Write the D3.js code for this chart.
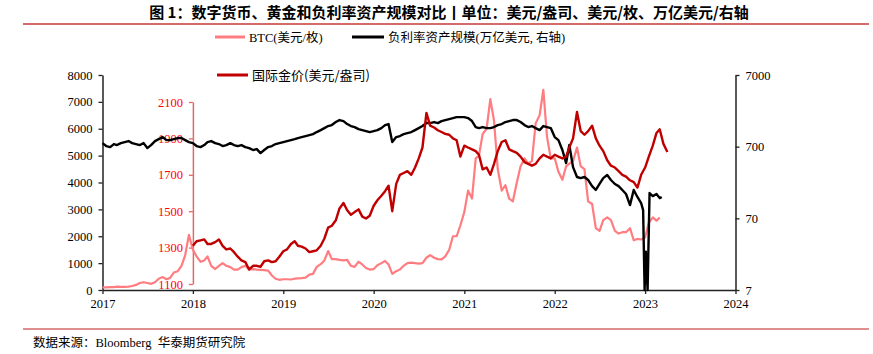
<!DOCTYPE html>
<html>
<head>
<meta charset="utf-8">
<script src="https://cdn.jsdelivr.net/npm/d3@7/dist/d3.min.js"></script>
<style>
  html, body { margin: 0; padding: 0; background: #fff; }
  svg { display: block; }
  text { white-space: pre; }
</style>
</head>
<body>
<svg id="chart" width="873" height="354"></svg>
<script>
// ---------------- DATA ----------------
const titleText = "图 1：数字货币、黄金和负利率资产规模对比丨单位：美元/盎司、美元/枚、万亿美元/右轴";
const sourceText = "数据来源：Bloomberg  华泰期货研究院";
const seriesNames = ["BTC(美元/枚)", "负利率资产规模(万亿美元, 右轴)", "国际金价(美元/盎司)"];

const yearTicks = [2017, 2018, 2019, 2020, 2021, 2022, 2023, 2024];
const leftTicks = [0, 1000, 2000, 3000, 4000, 5000, 6000, 7000, 8000];
const goldTicks = [1100, 1300, 1500, 1700, 1900, 2100];
const rightTicks = [7, 70, 700, 7000];

// BTC, semi-monthly (1st & 16th) from 2017-01
const btc2017 = [100,95,105,110,125,115,115,125,150,190,260,290,260,230,290,420,480,400,450,650,700,900,1300,2050];
const btc2018 = [1500,1250,1050,1100,1250,900,780,900,1000,900,850,760,760,850,900,760,780,760,750,740,720,540,420,380];
const btc2019 = [400,400,390,420,430,440,460,570,600,860,960,1100,1450,1150,1150,1120,1100,1120,900,860,1050,950,820,760];
const btc2020 = [780,920,1000,1080,950,600,700,760,900,1000,1020,1000,980,1000,1200,1300,1200,1150,1140,1250,1500,2000,2000,2400];
const btc2021 = [2900,3700,3400,4900,5000,5800,6000,7100,6300,4500,3700,3900,3400,3300,4000,4600,4900,4700,4800,6200,6500,7450,5700,4900];
const btc2022 = [4900,4400,4100,4600,4700,4800,5300,4600,4500,3300,3200,2300,2200,2600,2700,2600,2200,2100,2150,2150,2300,1850,1900,1880];
const btc2023 = [1950,2500,2700,2580,2700];

// Gold, semi-monthly from 2018-01
const gold2018 = [1310,1335,1340,1345,1320,1320,1330,1345,1310,1290,1295,1275,1250,1230,1220,1180,1200,1200,1195,1225,1230,1220,1225,1250];
const gold2019 = [1280,1290,1320,1335,1310,1305,1295,1275,1280,1285,1310,1350,1410,1420,1450,1515,1545,1505,1480,1495,1510,1470,1460,1475];
const gold2020 = [1530,1560,1585,1610,1640,1500,1650,1700,1710,1720,1700,1740,1790,1850,2040,1970,1960,1945,1935,1925,1920,1900,1890,1800];
const gold2021 = [1860,1850,1840,1830,1810,1730,1740,1700,1760,1830,1880,1890,1840,1830,1820,1800,1770,1760,1750,1760,1790,1810,1800,1790];
const gold2022 = [1810,1800,1790,1800,1850,1900,2045,1940,1920,1940,1970,1900,1860,1830,1780,1750,1740,1720,1700,1690,1670,1660,1630,1700];
const gold2023 = [1740,1800,1860,1930,1950,1870,1825];

// Negative-yield assets (right axis, log), semi-monthly from 2017-01
const neg2017 = [785,714,691,761,737,785,811,838,785,761,737,785,669,737,838,893,953,865,865,893,923,923,865,811];
const neg2018 = [785,714,691,737,811,838,785,761,714,737,785,737,714,737,691,669,628,648,570,628,691,714,761,785];
const neg2019 = [811,838,865,893,923,953,984,1016,1049,1119,1193,1272,1357,1401,1543,1645,1593,1447,1357,1314,1232,1193,1155,1119];
const neg2020 = [1155,1193,1272,1401,1447,811,953,984,1049,1083,1119,1193,1272,1357,1494,1494,1543,1494,1593,1645,1699,1754,1811,1811];
const neg2021 = [1811,1754,1593,1314,1272,1314,1272,1272,1314,1401,1447,1543,1593,1645,1645,1543,1401,1314,1357,1272,1193,1357,1314,1272];
const neg2022 = [953,865,628,413,737,363,264,255,264,240,197,174,211,255,281,240,211,197,174,153,107,174,139,114];
const negTailDates = ["2022-12-24","2022-12-30","2023-01-04","2023-01-11","2023-01-19","2023-02-01","2023-02-16","2023-03-01","2023-03-09"];
const negTailValues = [91,7,24,7,158,143,153,134,139];

// ---------------- BUILD ----------------
function semiMonthly(startYear, values) {
  return values.map((v, i) => {
    const m = Math.floor(i / 2);
    const d = (i % 2 === 0) ? 1 : 16;
    return { date: new Date(Date.UTC(startYear, m, d)), value: v };
  });
}
const btcData = semiMonthly(2017, [].concat(btc2017, btc2018, btc2019, btc2020, btc2021, btc2022, btc2023));
const goldData = semiMonthly(2018, [].concat(gold2018, gold2019, gold2020, gold2021, gold2022, gold2023));
const negData = semiMonthly(2017, [].concat(neg2017, neg2018, neg2019, neg2020, neg2021, neg2022))
  .concat(negTailDates.map((s, i) => ({ date: new Date(s + "T00:00:00Z"), value: negTailValues[i] })));

const svg = d3.select("#chart");
svg.append("rect").attr("width", 873).attr("height", 354).attr("fill", "#fff");

const serif = "'Liberation Serif', 'Times New Roman', 'Noto Sans CJK SC', serif";
const cjk = "'Noto Sans CJK SC', 'Noto Sans', sans-serif";
const mixed = "'Liberation Serif', 'Noto Sans CJK SC', serif";

const x = d3.scaleUtc()
  .domain([new Date(Date.UTC(2017,0,1)), new Date(Date.UTC(2024,0,1))])
  .range([102.5, 735.5]);
const yL = d3.scaleLinear().domain([0, 8000]).range([290, 75]);
const yG = d3.scaleLinear().domain([1100, 2100]).range([284, 102]);
const yR = d3.scaleLog().domain([7, 7000]).range([290, 75]);

// Title
svg.append("text").attr("x", 449).attr("y", 18).attr("text-anchor", "middle")
  .attr("font-family", cjk).attr("font-weight", "bold").attr("font-size", 15)
  .attr("fill", "#000").text(titleText);
svg.append("line").attr("x1", 23).attr("x2", 869).attr("y1", 24).attr("y2", 24)
  .attr("stroke", "#d46a6a").attr("stroke-width", 2);

// Bottom rule + source
svg.append("line").attr("x1", 23).attr("x2", 869).attr("y1", 329).attr("y2", 329)
  .attr("stroke", "#d46a6a").attr("stroke-width", 1.5);
svg.append("text").attr("x", 33).attr("y", 347)
  .attr("font-family", mixed).attr("font-size", 12.5).attr("fill", "#000").text(sourceText);

function styleAxis(g, color, fontColor) {
  g.selectAll("path").attr("stroke", color).attr("stroke-width", 1.5);
  g.selectAll("line").attr("stroke", color).attr("stroke-width", 1.3);
  g.selectAll("text").attr("font-family", serif).attr("font-size", 12.5).attr("fill", fontColor);
}

// Gold axis (drawn first so lines overlay it)
const gG = svg.append("g").attr("transform", `translate(${x(new Date(Date.UTC(2018,0,1)))},0)`)
  .call(d3.axisLeft(yG).tickValues(goldTicks).tickFormat(d3.format("d")).tickSize(4).tickSizeOuter(0).tickPadding(6));
styleAxis(gG, "#e06a6a", "#ff0000");

// Left axis
const gL = svg.append("g").attr("transform", `translate(${x.range()[0]},0)`)
  .call(d3.axisLeft(yL).tickValues(leftTicks).tickFormat(d3.format("d")).tickSize(4).tickSizeOuter(0).tickPadding(6));
styleAxis(gL, "#222", "#000");

// Right axis
const gR = svg.append("g").attr("transform", `translate(${x.range()[1]},0)`)
  .call(d3.axisRight(yR).tickValues(rightTicks).tickFormat(d3.format("d")).tickSize(4).tickSizeOuter(0).tickPadding(6));
styleAxis(gR, "#222", "#000");

// Bottom axis
const gX = svg.append("g").attr("transform", `translate(0,290)`)
  .call(d3.axisBottom(x).tickValues(yearTicks.map(y => new Date(Date.UTC(y,0,1))))
    .tickFormat(d3.utcFormat("%Y")).tickSize(4).tickSizeOuter(0).tickPadding(5));
styleAxis(gX, "#222", "#000");

// Lines
const lineL = d3.line().x(d => x(d.date)).y(d => yL(d.value));
const lineG = d3.line().x(d => x(d.date)).y(d => yG(d.value));
const lineR = d3.line().x(d => x(d.date)).y(d => yR(d.value));

svg.append("path").datum(btcData).attr("d", lineL)
  .attr("fill", "none").attr("stroke", "#ff7c80").attr("stroke-width", 2.2).attr("stroke-linejoin", "round");
svg.append("path").datum(negData).attr("d", lineR)
  .attr("fill", "none").attr("stroke", "#000").attr("stroke-width", 2.4).attr("stroke-linejoin", "round");
svg.append("path").datum(goldData).attr("d", lineG)
  .attr("fill", "none").attr("stroke", "#c00000").attr("stroke-width", 2.4).attr("stroke-linejoin", "round");

// Legend
const leg = [
  { x1: 215, x2: 245, y: 37, color: "#ff7c80", tx: 249, name: seriesNames[0], size: 12.5, font: mixed },
  { x1: 352, x2: 384, y: 37, color: "#000", tx: 388, name: seriesNames[1], size: 12.5, font: mixed },
  { x1: 217, x2: 248, y: 75, color: "#c00000", tx: 252, name: seriesNames[2], size: 13, font: cjk }
];
leg.forEach(l => {
  svg.append("line").attr("x1", l.x1).attr("x2", l.x2).attr("y1", l.y).attr("y2", l.y)
    .attr("stroke", l.color).attr("stroke-width", 3);
  svg.append("text").attr("x", l.tx).attr("y", l.y).attr("dy", "0.36em")
    .attr("font-family", l.font).attr("font-size", l.size).attr("fill", "#000").text(l.name);
});
</script>
</body>
</html>
